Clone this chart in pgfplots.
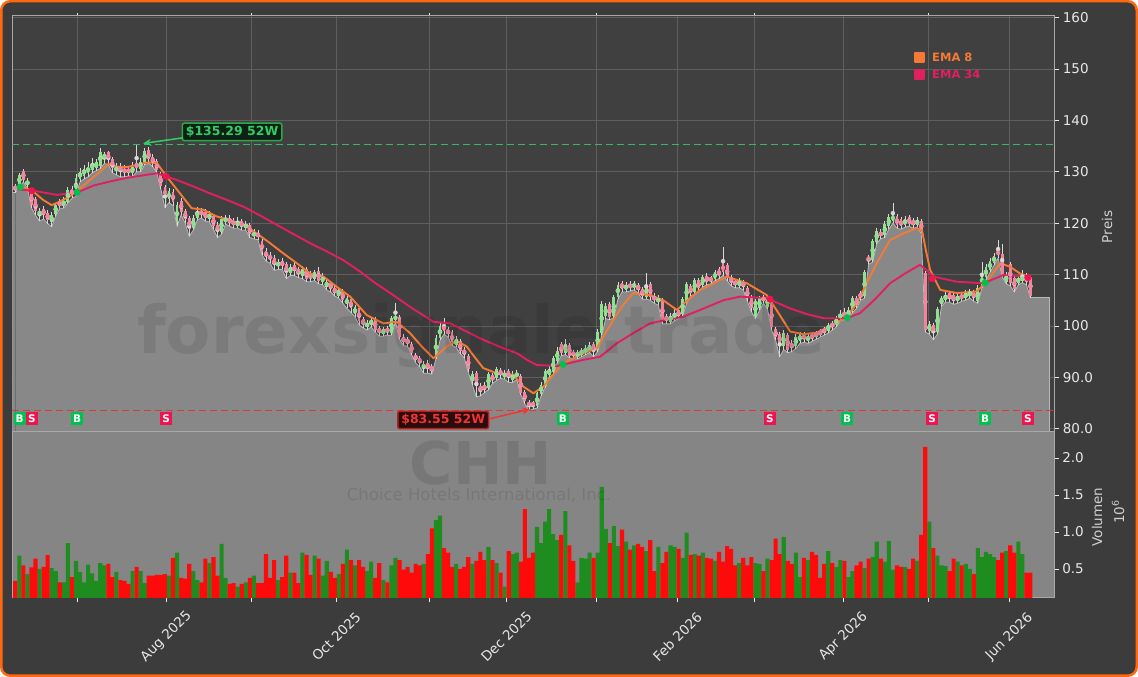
\documentclass[border=0pt]{standalone}
\usepackage{fontspec}
\setmainfont{DejaVu Sans}
\usepackage{pgfplots}
\pgfplotsset{compat=1.18}
\usepackage{pgfplotstable}
\usetikzlibrary{arrows.meta}
\newcommand{\fs}[1]{\fontsize{#1}{#1}\selectfont}

\definecolor{outerbg}{HTML}{3C3C3C}
\definecolor{panelbg}{HTML}{404040}
\definecolor{frameor}{HTML}{FF6A10}
\definecolor{gridc}{HTML}{5E5E5E}
\definecolor{areac}{HTML}{888888}
\definecolor{arealine}{HTML}{B8B8B8}
\definecolor{volbg}{HTML}{858585}
\definecolor{spinec}{HTML}{A8A8A8}
\definecolor{tickc}{HTML}{E8E8E8}
\definecolor{labc}{HTML}{D0D0D0}
\definecolor{ema8c}{HTML}{F47A36}
\definecolor{ema34c}{HTML}{E0205F}
\definecolor{upbody}{HTML}{8EE08E}
\definecolor{dnbody}{HTML}{F4849E}
\definecolor{wickc}{HTML}{D8D8D8}
\definecolor{volup}{HTML}{1E8C1E}
\definecolor{voldn}{HTML}{FF0A0A}
\definecolor{hiline}{HTML}{3CB371}
\definecolor{loline}{HTML}{D83A3A}
\definecolor{buyc}{HTML}{00C050}
\definecolor{sellc}{HTML}{EE1450}
\definecolor{hitxt}{HTML}{33CC66}
\definecolor{hibox}{HTML}{0C2014}
\definecolor{hiframe}{HTML}{2BA84A}
\definecolor{lotxt}{HTML}{F03535}
\definecolor{lobox}{HTML}{2A0C0C}
\definecolor{loframe}{HTML}{B82020}

\pgfplotstableread{
i o h l c v
0 127.2 127.6 125.9 126.6 0.34
1 127.4 129.8 127.0 129.4 0.68
2 130.2 130.6 128.0 128.4 0.55
3 127.6 128.8 126.8 128.2 0.43
4 126.0 126.4 123.0 123.6 0.52
5 124.6 125.0 121.5 122.4 0.64
6 121.6 123.0 120.4 122.4 0.50
7 122.8 123.4 120.8 121.5 0.53
8 122.0 122.6 119.9 120.6 0.69
9 120.2 122.2 119.3 121.6 0.51
10 121.8 124.0 121.4 123.6 0.47
11 124.0 124.6 122.9 123.4 0.32
12 123.4 125.0 122.9 124.4 0.32
13 124.2 127.0 123.9 126.4 0.85
14 126.6 127.2 124.8 125.4 0.39
15 125.6 129.6 125.2 128.8 0.61
16 128.6 130.8 128.0 130.0 0.46
17 129.2 131.4 128.6 130.6 0.32
18 129.8 131.8 129.0 131.0 0.56
19 130.4 132.6 129.8 131.6 0.44
20 130.8 132.4 130.2 131.8 0.34
21 131.2 134.6 130.6 133.8 0.58
22 132.6 133.9 131.6 133.4 0.55
23 133.8 134.0 131.4 132.2 0.57
24 132.4 132.8 129.8 130.8 0.39
25 130.2 131.6 129.4 131.0 0.46
26 131.2 131.6 129.0 130.0 0.35
27 130.6 131.4 129.0 129.8 0.34
28 130.4 131.0 129.2 130.0 0.30
29 129.8 131.8 129.0 131.0 0.47
30 131.6 135.29 130.0 130.8 0.53
31 130.6 132.6 130.0 131.8 0.47
32 131.8 134.6 131.4 134.0 0.31
33 134.2 134.8 131.6 132.4 0.41
34 132.8 133.4 131.0 131.8 0.41
35 132.0 132.4 129.8 130.4 0.42
36 129.6 130.0 126.6 127.2 0.42
37 127.0 127.4 123.0 125.0 0.43
38 124.6 126.8 124.0 126.2 0.41
39 126.0 126.6 123.4 124.2 0.65
40 120.2 124.2 119.4 123.6 0.72
41 124.4 124.8 121.6 122.2 0.38
42 122.4 122.8 120.0 120.8 0.37
43 121.0 121.4 117.4 118.8 0.57
44 119.0 121.6 118.6 121.0 0.47
45 121.0 123.2 120.6 122.4 0.35
46 122.4 123.0 121.0 121.6 0.32
47 122.2 122.8 120.4 121.0 0.64
48 120.8 122.4 120.2 121.8 0.58
49 121.4 121.8 118.8 119.4 0.66
50 119.6 120.2 117.2 118.4 0.41
51 118.2 121.4 117.8 120.8 0.84
52 120.2 121.6 119.8 121.0 0.38
53 121.0 121.6 119.4 120.0 0.30
54 120.4 121.0 119.0 119.6 0.31
55 119.4 121.2 119.0 120.2 0.26
56 120.4 120.8 118.6 119.2 0.30
57 119.0 120.4 118.6 119.8 0.32
58 119.6 120.0 117.2 117.8 0.38
59 117.4 118.8 116.9 118.2 0.41
60 118.0 118.6 116.8 117.4 0.31
61 116.6 117.0 113.8 114.4 0.31
62 114.6 115.2 112.6 113.4 0.70
63 113.8 114.4 112.2 113.0 0.38
64 113.2 113.8 110.8 111.8 0.62
65 111.6 113.0 111.0 112.4 0.35
66 112.6 113.2 111.0 111.6 0.39
67 112.0 112.4 109.2 110.2 0.68
68 110.2 112.0 109.8 111.4 0.45
69 111.8 112.4 109.8 110.6 0.45
70 111.0 111.4 109.4 110.2 0.31
71 109.8 111.6 109.2 111.0 0.72
72 111.0 111.4 108.6 109.2 0.69
73 110.0 110.6 108.6 109.4 0.42
74 109.2 110.8 108.8 110.4 0.68
75 110.6 111.4 108.2 108.8 0.64
76 108.6 110.2 108.0 109.6 0.41
77 107.6 109.0 107.0 108.6 0.61
78 108.4 108.8 106.6 107.2 0.46
79 107.4 107.8 105.8 106.4 0.38
80 105.8 107.4 105.4 107.0 0.43
81 106.8 107.2 104.4 105.0 0.57
82 104.2 106.0 103.4 105.4 0.76
83 105.2 105.6 102.6 103.4 0.62
84 102.4 104.0 101.8 103.6 0.55
85 103.4 103.8 100.2 101.0 0.62
86 101.4 101.8 99.6 100.2 0.53
87 99.8 101.2 99.2 100.6 0.47
88 100.2 101.6 99.8 101.2 0.60
89 101.4 101.8 98.8 99.2 0.38
90 99.6 100.0 98.0 98.6 0.58
91 98.4 99.8 98.0 99.4 0.35
92 99.6 100.0 98.2 98.8 0.32
93 98.6 102.0 98.2 101.6 0.55
94 101.2 104.4 100.8 102.0 0.65
95 101.8 102.2 97.4 97.8 0.62
96 97.8 98.4 96.2 96.8 0.49
97 97.4 97.8 96.0 96.6 0.53
98 96.4 96.8 94.4 94.8 0.45
99 94.4 94.8 92.8 93.4 0.57
100 93.8 94.2 92.0 92.8 0.55
101 91.8 93.2 90.8 92.6 0.57
102 92.8 93.4 90.8 91.6 0.70
103 92.2 92.6 90.6 91.2 1.05
104 94.0 98.2 93.6 97.6 1.16
105 97.6 100.6 97.2 100.0 1.22
106 100.2 101.5 98.4 99.0 0.78
107 99.4 99.8 97.8 98.4 0.72
108 98.8 99.2 96.2 96.8 0.53
109 96.2 98.0 95.8 97.4 0.57
110 97.0 97.4 94.6 95.2 0.50
111 95.4 95.8 93.8 94.6 0.53
112 94.2 94.6 91.0 91.6 0.66
113 89.2 91.2 88.6 90.6 0.57
114 90.8 91.2 86.2 88.4 0.61
115 88.4 88.8 86.4 87.2 0.73
116 88.6 89.0 87.0 87.6 0.62
117 88.0 91.0 87.6 90.6 0.80
118 90.4 90.8 88.8 89.4 0.62
119 89.8 92.0 89.4 91.6 0.58
120 91.4 91.8 89.8 90.4 0.45
121 90.0 91.4 89.6 90.8 0.26
122 91.2 91.6 89.0 89.8 0.74
123 89.4 91.2 89.0 90.6 0.70
124 90.2 91.4 89.6 90.8 0.72
125 90.2 90.6 86.6 87.0 0.60
126 87.2 87.6 84.8 85.4 1.31
127 85.2 85.6 83.55 84.4 0.65
128 85.0 85.4 83.8 84.6 0.72
129 84.4 87.2 84.0 86.9 1.07
130 86.8 89.0 86.4 88.6 0.85
131 88.4 91.6 88.0 91.2 1.14
132 90.4 92.2 90.0 91.6 1.31
133 91.0 94.2 90.6 93.8 0.97
134 93.2 95.8 92.8 95.2 0.89
135 96.4 96.8 94.2 94.8 0.96
136 94.8 97.5 94.4 96.4 1.28
137 96.2 96.6 93.8 94.2 0.82
138 95.0 95.4 93.6 94.2 0.61
139 94.0 95.4 93.6 94.8 0.32
140 94.4 95.8 94.0 95.2 0.65
141 94.8 96.2 94.4 95.6 0.64
142 95.2 96.8 94.8 96.2 0.72
143 96.4 96.8 94.0 95.0 0.65
144 95.4 99.4 95.0 98.8 0.72
145 98.6 104.8 98.2 104.2 1.61
146 102.0 104.4 101.4 103.8 1.04
147 104.2 104.6 101.2 101.8 0.85
148 102.0 106.0 101.6 105.6 1.08
149 105.6 108.6 105.2 108.0 0.81
150 108.4 108.8 106.6 107.2 1.03
151 107.0 108.6 106.6 108.0 0.87
152 108.2 108.8 106.8 107.4 0.76
153 107.4 108.8 107.0 108.2 0.82
154 108.0 108.4 106.4 107.0 0.84
155 107.2 107.6 105.2 105.8 0.80
156 105.6 110.2 105.2 108.0 0.74
157 108.2 108.6 105.0 105.6 0.89
158 105.8 106.4 104.4 105.0 0.47
159 104.6 106.0 104.0 105.4 0.80
160 105.0 105.4 100.4 101.0 0.58
161 102.0 102.4 100.4 101.0 0.73
162 100.8 102.6 100.4 102.0 0.82
163 101.4 103.2 101.0 102.6 0.80
164 103.0 103.4 101.4 102.0 0.77
165 102.4 105.6 102.0 105.2 0.65
166 104.8 108.6 104.4 108.2 0.99
167 107.8 108.2 105.8 106.4 0.69
168 106.6 109.4 106.2 109.0 0.70
169 109.0 109.4 106.8 107.4 0.68
170 108.0 110.0 107.6 109.6 0.72
171 109.8 110.2 108.0 108.6 0.65
172 109.4 109.8 108.2 108.8 0.64
173 109.2 110.8 108.8 110.4 0.61
174 111.0 111.4 109.2 109.8 0.73
175 112.2 115.4 109.8 110.4 0.60
176 111.8 112.2 108.8 109.4 0.81
177 109.6 110.0 107.8 108.4 0.77
178 108.8 109.2 107.4 108.0 0.55
179 107.8 109.4 107.4 108.8 0.58
180 108.6 109.0 107.0 107.6 0.65
181 107.4 107.8 104.8 105.4 0.55
182 105.6 106.0 102.8 103.4 0.66
183 102.0 105.2 101.4 104.8 0.58
184 103.4 105.8 103.0 105.4 0.57
185 105.6 106.0 104.4 105.0 0.47
186 103.6 106.0 103.2 105.6 0.64
187 104.4 104.8 99.2 99.8 0.62
188 99.4 99.8 97.2 97.8 0.91
189 98.4 98.8 94.0 96.6 0.70
190 96.0 99.2 95.4 98.6 0.93
191 98.2 98.6 94.8 95.4 0.61
192 96.6 97.2 95.0 95.8 0.57
193 96.0 98.4 95.6 97.8 0.72
194 97.0 98.8 96.6 98.4 0.39
195 98.2 98.8 96.8 97.4 0.65
196 97.0 98.6 96.6 98.0 0.62
197 98.4 98.8 97.0 97.6 0.73
198 98.6 99.0 97.4 98.0 0.69
199 99.0 99.4 97.8 98.4 0.38
200 99.4 99.8 98.2 98.8 0.57
201 99.0 100.6 98.6 100.2 0.74
202 100.6 101.0 99.2 99.8 0.58
203 100.2 102.0 99.8 101.6 0.53
204 101.4 103.0 101.0 102.4 0.62
205 102.8 103.4 101.2 101.8 0.61
206 101.8 103.6 101.4 103.0 0.39
207 103.0 105.8 102.6 105.4 0.47
208 105.4 105.8 103.4 104.0 0.55
209 106.4 106.8 105.0 105.6 0.60
210 105.8 110.8 105.4 110.4 0.51
211 113.4 113.8 112.0 112.8 0.64
212 112.8 117.0 112.4 116.6 0.66
213 116.4 119.0 116.0 118.4 0.87
214 118.2 118.8 117.0 117.6 0.64
215 117.6 120.4 117.2 119.8 0.60
216 119.4 121.8 118.8 121.2 0.88
217 120.4 123.9 120.0 121.6 0.49
218 121.4 121.8 119.0 119.6 0.55
219 120.8 121.2 118.8 119.4 0.53
220 119.6 121.4 119.2 120.8 0.53
221 121.2 121.6 119.4 119.8 0.50
222 120.6 121.0 119.0 119.6 0.64
223 119.6 121.2 119.2 120.6 0.61
224 120.4 120.8 118.0 118.4 0.96
225 110.2 110.6 98.8 99.2 2.15
226 99.0 101.0 98.4 100.4 1.14
227 100.2 100.6 97.3 98.6 0.78
228 98.8 103.6 98.4 103.2 0.68
229 104.2 105.8 103.8 105.4 0.55
230 105.0 106.6 104.6 106.0 0.54
231 106.4 106.8 104.6 105.2 0.47
232 106.0 106.4 104.2 104.8 0.64
233 104.8 106.4 104.4 105.8 0.60
234 106.0 106.6 104.8 105.4 0.55
235 105.4 107.0 105.0 106.4 0.57
236 105.8 107.2 105.4 106.6 0.50
237 106.6 107.0 104.8 105.4 0.43
238 104.8 108.0 104.4 107.4 0.78
239 107.8 112.5 107.4 110.0 0.66
240 109.6 112.0 109.0 111.4 0.73
241 110.8 113.2 110.4 112.6 0.70
242 112.2 114.2 111.8 113.6 0.66
243 114.6 116.7 113.2 113.8 0.62
244 114.0 116.0 109.6 110.0 0.72
245 108.6 110.4 108.2 109.8 0.74
246 112.0 112.4 107.8 108.4 0.82
247 109.4 109.8 106.6 107.2 0.72
248 108.4 109.8 108.0 109.4 0.87
249 108.8 110.8 108.4 109.6 0.70
250 109.8 110.2 108.0 108.6 0.45
251 109.6 110.0 105.5 105.8 0.45
}\stock

\begin{document}
\begin{tikzpicture}[x=1pt,y=1pt]
\draw[frameor, line width=2.5pt, fill=outerbg, rounded corners=9pt] (1.25pt,1.25pt) rectangle (1136.75pt,675.75pt);

% ---------------- price panel ----------------
\begin{axis}[
  at={(12.3pt,245pt)}, anchor=south west,
  width=1042pt, height=416pt, scale only axis,
  xmin=-0.74, xmax=256.9, ymin=79.36, ymax=160.3,
  axis background/.style={fill=panelbg},
  axis line style={draw=spinec, line width=1pt},
  xtick={37.34,79.38,121.41,163.70,204.75,245.80},
  minor xtick={15.43,58.36,102.37,143.67,182.74,225.86},
  xmajorticks=false, xminorticks=false,
  xmajorgrids, xminorgrids, ymajorgrids,
  grid style={draw=gridc, line width=0.8pt},
  minor grid style={draw=gridc, line width=0.8pt},
  ytick={80,90,100,110,120,130,140,150,160},
  yticklabels={80.0,90.0,100,110,120,130,140,150,160},
  ytick pos=right, yticklabel pos=right,
  tick align=outside, major tick length=5pt,
  tick style={draw=tickc, line width=0.8pt},
  yticklabel style={font=\fs{13.5}, text=tickc},
  legend style={at={(0.8655,0.917)}, anchor=north west, draw=none, fill=none,
    font=\bfseries\fs{11.5}, row sep=3pt, inner sep=0pt},
  legend cell align=left,
  legend image code/.code={\fill[#1] (0pt,-4.5pt) rectangle (9pt,4.5pt);},
]
% area (lows)
\addplot[fill=areac, draw=none, forget plot] coordinates {(-0.74,125.9) (0,125.9)} \closedcycle;
\addplot[fill=areac, draw=none, forget plot] table[x=i, y=l]{\stock} \closedcycle;
\addplot[fill=areac, draw=none, forget plot] coordinates {(251,105.5) (255.8,105.5)} \closedcycle;
\addplot[draw=arealine, line width=0.8pt, forget plot] coordinates {(-0.74,125.9) (0,125.9)};
\addplot[draw=arealine, line width=0.8pt, forget plot] table[x=i, y=l]{\stock};
\addplot[draw=arealine, line width=0.8pt, forget plot] coordinates {(251,105.5) (255.8,105.5) (255.8,79.36)};
% 52-week lines
\addplot[draw=hiline, line width=1.5pt, dash pattern=on 7pt off 4pt, forget plot] coordinates {(-0.74,135.29) (256.9,135.29)};
\addplot[draw=loline, line width=1.5pt, dash pattern=on 7pt off 4pt, forget plot] coordinates {(-0.74,83.55) (256.9,83.55)};
% wicks
\addplot[color=wickc, only marks, mark=none, forget plot,
  error bars/.cd, y dir=both, y explicit, error mark=none,
  error bar style={color=wickc, line width=0.8pt}]
  table[x=i, y expr={(\thisrow{h}+\thisrow{l})/2}, y error expr={(\thisrow{h}-\thisrow{l})/2}]{\stock};
% bodies
\addplot[color=upbody, only marks, mark=none, forget plot,
  restrict expr to domain={\thisrow{c}-\thisrow{o}}{0:1000},
  error bars/.cd, y dir=both, y explicit, error mark=none,
  error bar style={color=upbody, line width=2.8pt}]
  table[x=i, y expr={(\thisrow{o}+\thisrow{c})/2}, y error expr={abs(\thisrow{c}-\thisrow{o})/2}]{\stock};
\addplot[color=dnbody, only marks, mark=none, forget plot,
  restrict expr to domain={\thisrow{c}-\thisrow{o}}{-1000:-0.001},
  error bars/.cd, y dir=both, y explicit, error mark=none,
  error bar style={color=dnbody, line width=2.8pt}]
  table[x=i, y expr={(\thisrow{o}+\thisrow{c})/2}, y error expr={abs(\thisrow{c}-\thisrow{o})/2}]{\stock};
% EMAs
\addplot[color=ema8c, line width=1.9pt, line join=round] coordinates {
(0,126.5)(2,127.1)(4.5,126.1)(6.9,124.5)(9,123.5)(11,124.2)(13.5,125.2)(15.6,126.5)(18.5,128.4)(21,130)(23,131.5)(25,131)(27.5,130.9)(30,131.3)(32.5,131.8)(35,131.7)(37.4,129.1)(40.7,125.8)(43.6,122.9)(46.5,122.6)(49.8,121.3)(53,120.6)(56.4,119.7)(59.7,118)(63,116.1)(66.3,114.1)(69.6,112.2)(72.9,110.2)(76.2,109.6)(79.5,107.6)(82.8,105.7)(86.9,102.1)(91,100.5)(94.3,100.8)(97.6,98.6)(100.5,96)(103.4,93.7)(106.7,96)(109.1,97.1)(111.6,96)(114.1,93.4)(115.7,91.8)(119,90.8)(123.1,90.5)(125.6,88.2)(128.1,86.9)(130.6,88.2)(133,90.5)(135.5,92.7)(140.5,94.7)(143.8,95.6)(145.4,97.9)(147.9,101.2)(150.3,104.1)(152.8,106.4)(157,106)(160.2,105)(163.6,103.1)(166.8,105.4)(169.3,107)(171,107.6)(175.9,109.6)(180.9,108.3)(185.8,106)(188.7,102.5)(191.6,98.9)(194.9,98.4)(198.2,98.7)(201.5,99.9)(205.6,101.8)(208.1,104.4)(210.5,108.3)(213,112.2)(216.3,116.7)(219.6,118)(222.9,119)(224.2,118.6)(225.2,114.5)(226.2,110.9)(228.7,107.0)(232.8,106.4)(237.7,106.7)(240.2,108.6)(243.5,112.2)(246,111.5)(248.4,110.2)(250.5,109.6)};
\addlegendentry{\hspace{5pt}\textcolor{ema8c}{EMA 8}}
\addplot[color=ema34c, line width=1.9pt, line join=round] coordinates {
(0,126.6)(4.5,126.3)(10.2,125.5)(15.2,125.9)(19.3,127.3)(23.4,128.1)(27.5,128.8)(31.7,129.3)(35,129.7)(39.9,128.4)(43.8,127.2)(48.1,125.8)(53,124.3)(56.4,123.2)(60.5,121.5)(64.6,119.7)(68.7,117.9)(72.9,116.1)(77,114.5)(81.1,112.8)(85.2,110.6)(88.9,108.4)(92.7,106.4)(98,103.5)(103.4,100.8)(107.5,100.5)(111.6,98.9)(115.7,97.3)(119.9,95.9)(124,94.7)(126.5,93.4)(128.9,92.4)(133.9,92.2)(137.2,92.8)(140.5,93.4)(144.6,94.0)(148.7,96.6)(152.8,98.6)(157,100.5)(161.1,101.2)(165.2,101.8)(169.3,103.1)(175.1,105)(179.2,105.7)(185.8,105.4)(191.6,103.4)(195.7,102.3)(199.9,101.5)(205.6,101.5)(208.9,102.5)(212.6,105.2)(216.3,108.3)(220,110.2)(223.7,111.9)(225.4,110.8)(227,109.6)(232.8,108.6)(239.4,108.3)(244.3,109.9)(250.5,109.6)};
\addlegendentry{\hspace{5pt}\textcolor{ema34c}{EMA 34}}
% signal dots
\addplot[only marks, mark=*, mark size=3.3pt, color=buyc, forget plot] coordinates {(1.2,127.0) (15.3,126.0) (135.4,92.5) (205.7,101.6) (239.8,108.4)};
\addplot[only marks, mark=*, mark size=3.3pt, color=sellc, forget plot] coordinates {(4.1,126.3) (37.3,129.1) (186.6,105.2) (226.7,109.2) (250.4,109.4)};
% B / S boxes
\addplot[only marks, mark=none, forget plot, point meta=explicit symbolic, nodes near coords,
  every node near coord/.style={anchor=center, fill=buyc, text=white, font=\bfseries\fs{10.5}, inner sep=0pt, minimum width=12pt, minimum height=13.5pt}]
  table[x=i, y=y, meta=t]{
i y t
1.1 82.0 B
15.3 82.0 B
135.4 82.0 B
205.7 82.0 B
239.8 82.0 B
};
\addplot[only marks, mark=none, forget plot, point meta=explicit symbolic, nodes near coords,
  every node near coord/.style={anchor=center, fill=sellc, text=white, font=\bfseries\fs{10.5}, inner sep=0pt, minimum width=12pt, minimum height=13.5pt}]
  table[x=i, y=y, meta=t]{
i y t
4.1 82.0 S
37.3 82.0 S
186.6 82.0 S
226.7 82.0 S
250.4 82.0 S
};
% 52W annotations
\node[draw=hiframe, line width=1.5pt, fill=hibox, text=hitxt, font=\bfseries\fs{12.5},
  rounded corners=2pt, inner xsep=3.5pt, inner ysep=3pt] at (axis cs:53.6,137.75) {\$135.29 52W};
\draw[draw=hitxt, line width=1.5pt, -{Stealth[length=8pt,width=7pt]}] (axis cs:41.5,136.6) -- (axis cs:31.6,135.5);
\node[draw=loframe, line width=1.5pt, fill=lobox, text=lotxt, font=\bfseries\fs{12.5},
  rounded corners=2pt, inner xsep=3.5pt, inner ysep=3pt] at (axis cs:105.8,81.7) {\$83.55 52W};
\draw[draw=lotxt, line width=1.5pt, -{Stealth[length=8pt,width=7pt]}] (axis cs:117.1,81.9) -- (axis cs:127.3,83.8);
\end{axis}

% ---------------- volume panel ----------------
\begin{axis}[
  at={(12.3pt,79pt)}, anchor=south west,
  width=1042pt, height=166pt, scale only axis,
  xmin=-0.74, xmax=256.9, ymin=0.108, ymax=2.35,
  axis background/.style={fill=volbg},
  axis line style={draw=spinec, line width=1pt},
  xtick={37.34,79.38,121.41,163.70,204.75,245.80},
  minor xtick={15.43,58.36,102.37,143.67,182.74,225.86},
  xticklabels={Aug 2025,Oct 2025,Dec 2025,Feb 2026,Apr 2026,Jun 2026},
  xtick pos=left, ytick pos=right, yticklabel pos=right,
  tick align=outside, major tick length=4.5pt, minor tick length=4.5pt,
  tick style={draw=tickc, line width=0.8pt},
  minor tick style={draw=tickc, line width=0.8pt},
  ytick={0.5,1,1.5,2}, yticklabels={0.5,1.0,1.5,2.0},
  xticklabel style={font=\fs{13.5}, text=tickc, yshift=-34pt, rotate=45, anchor=center},
  yticklabel style={font=\fs{13.5}, text=tickc},
]
\addplot[ybar, bar width=4.1pt, bar shift=0pt, fill=volup, draw=none,
  restrict expr to domain={\thisrow{c}-\thisrow{o}}{0:1000}] table[x=i, y=v]{\stock};
\addplot[ybar, bar width=4.1pt, bar shift=0pt, fill=voldn, draw=none,
  restrict expr to domain={\thisrow{c}-\thisrow{o}}{-1000:-0.001}] table[x=i, y=v]{\stock};
\end{axis}

% axis titles
\node[rotate=90, text=labc, font=\fs{13.5}] at (1107pt,450pt) {Preis};
\node[rotate=90, text=labc, font=\fs{13.5}] at (1097pt,160pt) {Volumen};
\node[rotate=90, text=labc, font=\fs{13.5}] at (1118pt,165pt) {10\textsuperscript{6}};

% watermarks
\node[inner sep=0pt, text=black, text opacity=0.09, font=\bfseries\fs{66}] at (481pt,341pt) {forexsignale.trade};
\node[inner sep=0pt, text=black, text opacity=0.1, font=\bfseries\fs{59}] at (481pt,213.5pt) {CHH};
\node[inner sep=0pt, text=black, text opacity=0.1, font=\fs{16.5}] at (479pt,182pt) {Choice Hotels International, Inc.};
\end{tikzpicture}
\end{document}
